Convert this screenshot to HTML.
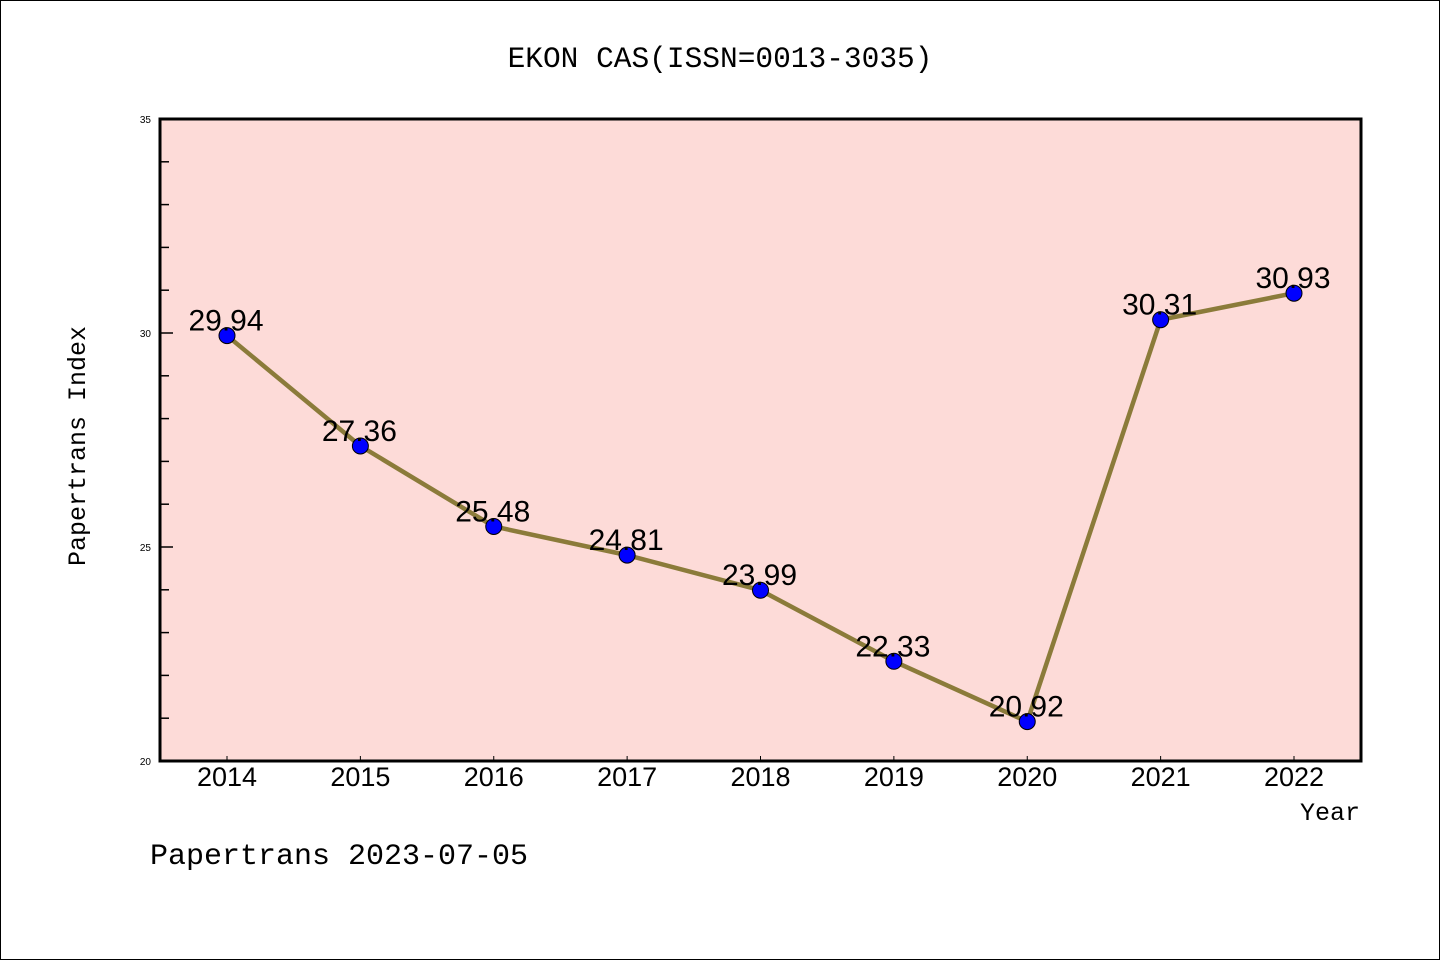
<!DOCTYPE html>
<html><head><meta charset="utf-8"><style>
html,body{margin:0;padding:0;background:#fff}
svg{display:block;font-family:"Liberation Sans","DejaVu Sans",sans-serif}
</style></head><body>
<svg id="chart" width="1440" height="960">
<rect x="0.5" y="0.5" width="1439" height="959" fill="#fff" stroke="#000"/>
<text x="720" y="67" font-size="29.5" text-anchor="middle" font-family="Liberation Mono, monospace">EKON CAS(ISSN=0013-3035)</text>
<rect x="160" y="119" width="1201" height="642" fill="#fddbd8"/>
<g id="yticks"></g><g id="xticks"></g>
<rect x="160" y="119" width="1201" height="642" fill="none" stroke="#000" stroke-width="3"/>
<g id="series"></g>
<text x="85" y="446" font-size="25" text-anchor="middle" transform="rotate(-90 85 446)" font-family="Liberation Mono, monospace">Papertrans Index</text>
<text x="1360" y="820" font-size="25" text-anchor="end" font-family="Liberation Mono, monospace">Year</text>
<text x="150" y="864" font-size="30" font-family="Liberation Mono, monospace">Papertrans 2023-07-05</text>
</svg>
<script>
const years=["2014","2015","2016","2017","2018","2019","2020","2021","2022"];
const values=[29.94,27.36,25.48,24.81,23.99,22.33,20.92,30.31,30.93];
const valueLabels=["29.94","27.36","25.48","24.81","23.99","22.33","20.92","30.31","30.93"];
const yTickLabels=["20","25","30","35"];
(function(){
const NS="http://www.w3.org/2000/svg";
const yMin=20,yMax=35,plotTop=119,plotBot=761;
function ys(v){return plotBot-(v-yMin)/(yMax-yMin)*(plotBot-plotTop);}
function xs(i){return 227+i*(1294-227)/(years.length-1);}
function mk(t,a,p){const e=document.createElementNS(NS,t);for(const k in a)e.setAttribute(k,a[k]);p.appendChild(e);return e;}
const yt=document.getElementById('yticks');
for(let v=yMin+1;v<yMax;v++){
  if(v%5===0)continue;
  const l=mk('line',{x1:160,x2:169,y1:ys(v),y2:ys(v),stroke:'#000','stroke-width':1.5},yt);
  
  
}
yTickLabels.forEach(s=>{
  const v=+s;
  const l=mk('line',{x1:160,x2:173,y1:ys(v),y2:ys(v),stroke:'#000','stroke-width':1.5},yt);
  
  
  const t=mk('text',{x:151,y:ys(v)+4,'font-size':10,'text-anchor':'end'},yt);
  t.textContent=s;
  
  
});
const xt=document.getElementById('xticks');
years.forEach((y,i)=>{
  const l=mk('line',{x1:xs(i),x2:xs(i),y1:plotBot,y2:plotBot-5,stroke:'#000','stroke-width':1},xt);
  
  
  const t=mk('text',{x:xs(i),y:786,'font-size':27,'text-anchor':'middle'},xt);
  t.textContent=y;
  
  
});
const sg=document.getElementById('series');
const pl=mk('polyline',{points:values.map((v,i)=>xs(i)+','+ys(v)).join(' '),fill:'none',stroke:'#8b7b3a','stroke-width':4.5,'stroke-linejoin':'round'},sg);


values.forEach((v,i)=>{
  const c=mk('circle',{cx:xs(i),cy:ys(v),r:8,fill:'#0000ff',stroke:'#000','stroke-width':1},sg);
  
  
  const t=mk('text',{x:xs(i)-1,y:ys(v)-5,'font-size':30,'text-anchor':'middle'},sg);
  t.textContent=valueLabels[i];
  
  
});
})();
</script>
</body></html>
